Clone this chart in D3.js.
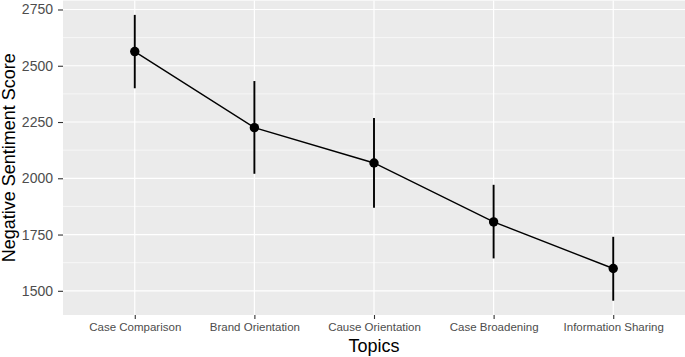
<!DOCTYPE html>
<html>
<head>
<meta charset="utf-8">
<script src="https://cdn.jsdelivr.net/npm/d3@7"></script>
<style>
  body { margin: 0; background: #fff; }
  svg { display: block; font-family: "Liberation Sans", Arial, sans-serif; }
</style>
</head>
<body>
<div class="container"></div>
<script>
// chart data
const topics = ["Case Comparison", "Brand Orientation", "Cause Orientation", "Case Broadening", "Information Sharing"];
const means = [2563, 2225, 2068, 1806, 1599];
const lows = [2400, 2020, 1869, 1644, 1456];
const highs = [2726, 2432, 2268, 1971, 1740];
const yTicks = [1500, 1750, 2000, 2250, 2500, 2750];
const yMinor = [1625, 1875, 2125, 2375, 2625];

const width = 685;
const height = 357;
const margin = { top: 0.6, right: 0, bottom: 42, left: 63 };

const svg = d3.select(".container")
  .append("svg")
  .attr("width", width)
  .attr("height", height);

const data = topics.map((t, i) => ({ topic: t, mean: means[i], low: lows[i], high: highs[i] }));

// x is discrete, ggplot style expansion of 0.6 of a step on each side
const xScale = d3.scalePoint()
  .domain(topics)
  .range([margin.left, width - margin.right])
  .padding(0.6);

// y domain: data range plus 5% on each end
const lo = d3.min(lows), hi = d3.max(highs);
const pad = (hi - lo) * 0.05;
const yScale = d3.scaleLinear()
  .domain([lo - pad, hi + pad])
  .range([height - margin.bottom, margin.top]);

const panelBottom = height - margin.bottom;

// panel background
svg.append("rect")
  .attr("x", margin.left)
  .attr("y", margin.top)
  .attr("width", width - margin.right - margin.left)
  .attr("height", panelBottom - margin.top)
  .attr("fill", "#ebebeb");

// minor grid
svg.append("g")
  .selectAll("line")
  .data(yMinor)
  .join("line")
  .attr("x1", margin.left)
  .attr("x2", width - margin.right)
  .attr("y1", d => yScale(d))
  .attr("y2", d => yScale(d))
  .attr("stroke", "#fff")
  .attr("stroke-width", 0.6);

// major grid, horizontal
svg.append("g")
  .selectAll("line")
  .data(yTicks)
  .join("line")
  .attr("x1", margin.left)
  .attr("x2", width - margin.right)
  .attr("y1", d => yScale(d))
  .attr("y2", d => yScale(d))
  .attr("stroke", "#fff")
  .attr("stroke-width", 1.2);

// major grid, vertical
svg.append("g")
  .selectAll("line")
  .data(topics)
  .join("line")
  .attr("x1", d => xScale(d))
  .attr("x2", d => xScale(d))
  .attr("y1", margin.top)
  .attr("y2", panelBottom)
  .attr("stroke", "#fff")
  .attr("stroke-width", 1.2);

// axes
function xAxis(g) {
  g.call(d3.axisBottom(xScale).tickSize(4).tickPadding(4))
    .attr("font-size", "11.5px")
    .attr("font-family", null);
  g.select(".domain").remove();
  g.selectAll(".tick line").attr("stroke", "#333").attr("stroke-width", 1.1);
  g.selectAll(".tick text").attr("fill", "#4d4d4d");
}

function yAxis(g) {
  g.call(d3.axisLeft(yScale).tickValues(yTicks).tickFormat(d3.format("d")).tickSize(5).tickPadding(5))
    .attr("font-size", "14px")
    .attr("font-family", null);
  g.select(".domain").remove();
  g.selectAll(".tick line").attr("stroke", "#333").attr("stroke-width", 1.1);
  g.selectAll(".tick text").attr("fill", "#4d4d4d");
}

svg.append("g")
  .attr("transform", `translate(0, ${panelBottom})`)
  .call(xAxis);

svg.append("g")
  .attr("transform", `translate(${margin.left}, 0)`)
  .call(yAxis);

// error bars
svg.append("g")
  .selectAll("line")
  .data(data)
  .join("line")
  .attr("x1", d => xScale(d.topic))
  .attr("x2", d => xScale(d.topic))
  .attr("y1", d => yScale(d.low))
  .attr("y2", d => yScale(d.high))
  .attr("stroke", "#000")
  .attr("stroke-width", 1.9);

// connecting line
svg.append("path")
  .datum(data)
  .attr("fill", "none")
  .attr("stroke", "#000")
  .attr("stroke-width", 1.4)
  .attr("d", d3.line().x(d => xScale(d.topic)).y(d => yScale(d.mean)));

// points
svg.append("g")
  .selectAll("circle")
  .data(data)
  .join("circle")
  .attr("cx", d => xScale(d.topic))
  .attr("cy", d => yScale(d.mean))
  .attr("r", 4.7)
  .attr("fill", "#000");

// axis titles
svg.append("text")
  .attr("x", (margin.left + width - margin.right) / 2)
  .attr("y", 352)
  .attr("text-anchor", "middle")
  .attr("font-size", "18px")
  .attr("fill", "#000")
  .text("Topics");

svg.append("text")
  .attr("transform", `translate(15, ${(margin.top + panelBottom) / 2}) rotate(-90)`)
  .attr("text-anchor", "middle")
  .attr("font-size", "18px")
  .attr("fill", "#000")
  .text("Negative Sentiment Score");
</script>
</body>
</html>
